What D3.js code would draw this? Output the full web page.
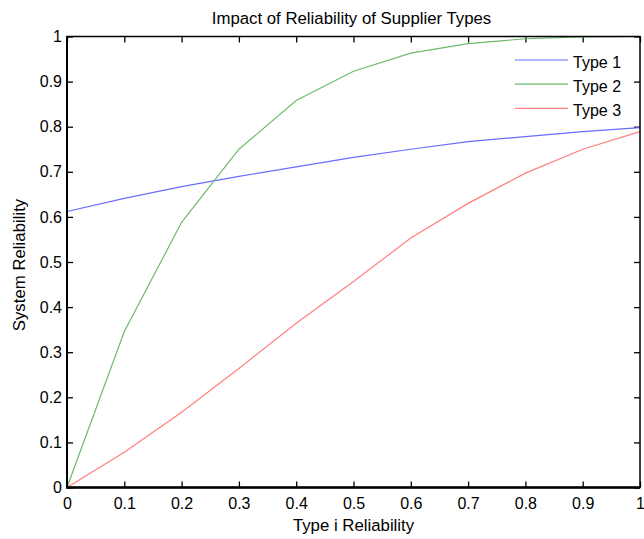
<!DOCTYPE html>
<html>
<head>
<meta charset="utf-8">
<script src="https://cdn.jsdelivr.net/npm/d3@7"></script>
<style>
  body { margin: 0; background: #fff; }
  svg { display: block; font-family: "Liberation Sans", Arial, sans-serif; }
  .tick text { font-size: 16px; fill: #000; }
  .tick line { stroke: #000; stroke-width: 1.3; }
</style>
</head>
<body>
<div id="chart"></div>
<script>
// data ------------------------------------------------------------------
const xValues = [0, 0.1, 0.2, 0.3, 0.4, 0.5, 0.6, 0.7, 0.8, 0.9, 1];
const type1 = [0.612, 0.641, 0.667, 0.690, 0.711, 0.732, 0.750, 0.767, 0.778, 0.789, 0.798];
const type2 = [0, 0.346, 0.588, 0.750, 0.858, 0.923, 0.963, 0.984, 0.995, 0.999, 1.0];
const type3 = [0, 0.078, 0.167, 0.264, 0.364, 0.457, 0.553, 0.630, 0.697, 0.750, 0.789];
const seriesNames = ['Type 1', 'Type 2', 'Type 3'];
const seriesColors = ['#6b6bff', '#6dbb6d', '#ff7f7f'];
const xTicks = [0, 0.1, 0.2, 0.3, 0.4, 0.5, 0.6, 0.7, 0.8, 0.9, 1];
const yTicks = [0, 0.1, 0.2, 0.3, 0.4, 0.5, 0.6, 0.7, 0.8, 0.9, 1];

const width = 644;
const height = 539;
const margin = { top: 36.5, right: 4, bottom: 51.5, left: 67 };

const svg = d3.select('#chart')
  .append('svg')
  .attr('width', width)
  .attr('height', height);

const xScale = d3.scaleLinear().domain([0, 1]).range([margin.left, width - margin.right]);
const yScale = d3.scaleLinear().domain([0, 1]).range([height - margin.bottom, margin.top]);

const fmt = d => d3.format('~g')(d);

// axes, ticks pointing inward
svg.append('g')
  .attr('transform', `translate(0, ${yScale(0)})`)
  .call(d3.axisBottom(xScale).tickValues(xTicks).tickFormat(fmt).tickSize(-6).tickSizeOuter(0).tickPadding(10))
  .call(g => g.select('.domain').remove());

svg.append('g')
  .attr('transform', `translate(${xScale(0)}, 0)`)
  .call(d3.axisLeft(yScale).tickValues(yTicks).tickFormat(fmt).tickSize(-6).tickSizeOuter(0).tickPadding(5))
  .call(g => g.select('.domain').remove());

svg.append('g')
  .attr('transform', `translate(0, ${yScale(1)})`)
  .call(d3.axisTop(xScale).tickValues(xTicks).tickFormat('').tickSize(-6).tickSizeOuter(0))
  .call(g => g.select('.domain').remove());

svg.append('g')
  .attr('transform', `translate(${xScale(1)}, 0)`)
  .call(d3.axisRight(yScale).tickValues(yTicks).tickFormat('').tickSize(-6).tickSizeOuter(0))
  .call(g => g.select('.domain').remove());

// series lines
const allSeries = [type1, type2, type3];
const line = d3.line()
  .x((d, i) => xScale(xValues[i]))
  .y(d => yScale(d));

svg.append('g')
  .selectAll('path')
  .data(allSeries)
  .join('path')
  .attr('d', d => line(d))
  .attr('fill', 'none')
  .attr('stroke', (d, i) => seriesColors[i])
  .attr('stroke-width', 1.2);

// frame
svg.append('rect')
  .attr('x', xScale(0))
  .attr('y', yScale(1))
  .attr('width', xScale(1) - xScale(0))
  .attr('height', yScale(0) - yScale(1))
  .attr('fill', 'none')
  .attr('stroke', '#000')
  .attr('stroke-width', 1.5);

svg.append('line')
  .attr('x1', xScale(0) - 1).attr('x2', xScale(1))
  .attr('y1', yScale(0)).attr('y2', yScale(0))
  .attr('stroke', '#000').attr('stroke-width', 2.5);

svg.append('line')
  .attr('x1', xScale(0)).attr('x2', xScale(0))
  .attr('y1', yScale(0)).attr('y2', yScale(1))
  .attr('stroke', '#000').attr('stroke-width', 2);

// legend
const legend = svg.append('g').attr('transform', 'translate(515, 60)');
const rows = legend.selectAll('g')
  .data(seriesNames)
  .join('g')
  .attr('transform', (d, i) => `translate(0, ${i * 24.2})`);

rows.append('line')
  .attr('x1', 0).attr('x2', 53)
  .attr('stroke', (d, i) => seriesColors[i])
  .attr('stroke-width', 1.2);

rows.append('text')
  .attr('x', 58)
  .attr('y', 7.5)
  .attr('font-size', 16)
  .text(d => d);

// titles
svg.append('text')
  .attr('x', (xScale(0) + xScale(1)) / 2 - 2)
  .attr('y', 24)
  .attr('text-anchor', 'middle')
  .attr('font-size', 16.8)
  .text('Impact of Reliability of Supplier Types');

svg.append('text')
  .attr('x', (xScale(0) + xScale(1)) / 2)
  .attr('y', 531)
  .attr('text-anchor', 'middle')
  .attr('font-size', 16.8)
  .text('Type i Reliability');

svg.append('text')
  .attr('transform', `translate(25, ${(yScale(0) + yScale(1)) / 2 + 3}) rotate(-90)`)
  .attr('text-anchor', 'middle')
  .attr('font-size', 16.8)
  .text('System Reliability');
</script>
</body>
</html>
